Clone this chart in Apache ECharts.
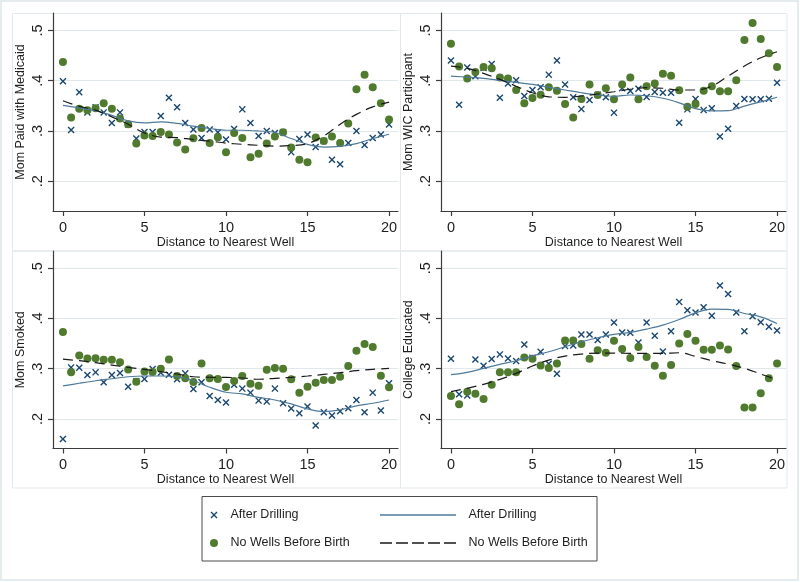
<!DOCTYPE html>
<html>
<head>
<meta charset="utf-8">
<script src="https://cdn.jsdelivr.net/npm/echarts@6/dist/echarts.min.js"></script>
<style>
html,body{margin:0;padding:0;background:#fff;}
#chart{width:800px;height:582px;}
</style>
</head>
<body>
<div id="chart"></div>
<script>
// ---- data ----
const scatterX = [0,0.5,1,1.5,2,2.5,3,3.5,4,4.5,5,5.5,6,6.5,7,7.5,8,8.5,9,9.5,10,10.5,11,11.5,12,12.5,13,13.5,14,14.5,15,15.5,16,16.5,17,17.5,18,18.5,19,19.5,20];
const fitX = [0,1,2,3,4,5,6,7,8,9,10,11,12,13,14,15,16,17,18,19,20];
const xTicks = [0,5,10,15,20];
const yTicks = [0.2,0.3,0.4,0.5];
const panelTitles = ['Mom Paid with Medicaid','Mom WIC Participant','Mom Smoked','College Educated'];
const xAxisTitle = 'Distance to Nearest Well';
const legendLabels = ['After Drilling','No Wells Before Birth','After Drilling','No Wells Before Birth'];

const medicaidAfter = [0.399,0.302,0.377,0.337,0.347,0.337,0.316,0.337,0.313,0.285,0.298,0.298,0.330,0.366,0.347,0.316,0.303,0.286,0.303,0.2975,0.283,0.304,0.343,0.316,0.290,0.300,0.296,0.2975,0.258,0.284,0.293,0.268,0.280,0.243,0.234,0.276,0.300,0.272,0.286,0.293,0.313];
const medicaidNoWells = [0.437,0.327,0.344,0.341,0.345,0.355,0.344,0.325,0.3135,0.275,0.291,0.290,0.298,0.293,0.277,0.263,0.2856,0.306,0.276,0.2875,0.258,0.296,0.286,0.248,0.255,0.275,0.289,0.2975,0.267,0.243,0.238,0.287,0.280,0.289,0.276,0.315,0.383,0.412,0.387,0.355,0.323];
const medicaidAfterFit = [0.351,0.346,0.340,0.331,0.320,0.316,0.318,0.315,0.3095,0.305,0.3015,0.3015,0.300,0.297,0.285,0.2735,0.268,0.2695,0.275,0.285,0.2935];
const medicaidNoWellsFit = [0.360,0.349,0.3415,0.328,0.3135,0.296,0.288,0.287,0.283,0.280,0.276,0.2735,0.2715,0.270,0.271,0.275,0.290,0.3135,0.333,0.348,0.3575];

const wicAfter = [0.440,0.352,0.426,0.409,0.425,0.433,0.366,0.3945,0.401,0.3695,0.3815,0.387,0.412,0.440,0.3925,0.367,0.3435,0.3615,0.372,0.367,0.3365,0.385,0.3795,0.384,0.3675,0.3775,0.376,0.376,0.3165,0.343,0.3635,0.3415,0.345,0.289,0.3045,0.3495,0.3635,0.363,0.363,0.364,0.396];
const wicNoWells = [0.4735,0.428,0.4045,0.417,0.427,0.4245,0.4065,0.4045,0.3815,0.355,0.3655,0.372,0.387,0.380,0.3535,0.327,0.3635,0.3925,0.3715,0.385,0.363,0.3925,0.4065,0.363,0.389,0.3945,0.414,0.410,0.381,0.348,0.3535,0.380,0.389,0.379,0.379,0.401,0.481,0.5146,0.483,0.4545,0.427];
const wicAfterFit = [0.409,0.407,0.4045,0.4005,0.3965,0.3925,0.387,0.3815,0.376,0.3715,0.369,0.3715,0.370,0.365,0.356,0.3445,0.340,0.3405,0.3495,0.358,0.367];
const wicNoWellsFit = [0.429,0.4245,0.4145,0.4025,0.389,0.376,0.368,0.367,0.3695,0.3735,0.378,0.383,0.386,0.385,0.3815,0.3815,0.389,0.409,0.429,0.4455,0.4575];

const smokedAfter = [0.160,0.3026,0.302,0.2874,0.2927,0.2728,0.2874,0.2914,0.2642,0.275,0.2795,0.2993,0.292,0.288,0.279,0.2907,0.2596,0.2728,0.2457,0.2377,0.2325,0.268,0.2603,0.2523,0.2364,0.2344,0.2603,0.2311,0.2205,0.2113,0.2245,0.1868,0.2132,0.2066,0.2152,0.2212,0.2377,0.2132,0.2523,0.2166,0.2709];
const smokedNoWells = [0.373,0.2927,0.3265,0.3205,0.321,0.318,0.318,0.313,0.2985,0.274,0.2945,0.2935,0.300,0.3185,0.2855,0.281,0.2735,0.3106,0.281,0.2795,0.2635,0.2755,0.2855,0.270,0.266,0.298,0.3015,0.300,0.279,0.2523,0.2642,0.272,0.2775,0.2775,0.284,0.3053,0.3358,0.349,0.343,0.286,0.263];
const smokedAfterFit = [0.2656,0.271,0.276,0.280,0.284,0.2854,0.2854,0.284,0.276,0.263,0.253,0.2497,0.243,0.2377,0.2298,0.2199,0.2146,0.2179,0.2258,0.2311,0.2377];
const smokedNoWellsFit = [0.319,0.316,0.312,0.3073,0.3026,0.2987,0.294,0.2894,0.284,0.283,0.2828,0.2815,0.279,0.2808,0.2828,0.2854,0.2887,0.292,0.296,0.2987,0.3007];

const collegeAfter = [0.3199,0.249,0.2464,0.3185,0.306,0.3192,0.3285,0.3205,0.3152,0.3483,0.322,0.3338,0.31,0.2901,0.345,0.3463,0.3682,0.3682,0.357,0.3682,0.392,0.3722,0.3715,0.3523,0.392,0.3656,0.3344,0.3748,0.4331,0.4166,0.4119,0.4225,0.4053,0.4656,0.449,0.4119,0.3748,0.4046,0.3927,0.3834,0.3762];
const collegeNoWells = [0.2457,0.229,0.2543,0.2503,0.2397,0.2682,0.2927,0.2927,0.2927,0.3225,0.3199,0.3066,0.3013,0.3106,0.3563,0.3563,0.349,0.3199,0.337,0.3318,0.3556,0.3391,0.3212,0.343,0.3232,0.306,0.2861,0.3073,0.3503,0.3689,0.3556,0.3377,0.3377,0.3464,0.3384,0.3053,0.2225,0.2225,0.251,0.2808,0.3106];
const collegeAfterFit = [0.288,0.2927,0.3007,0.3086,0.3159,0.3252,0.3338,0.3437,0.3536,0.3616,0.3682,0.3722,0.3788,0.3868,0.398,0.4113,0.4185,0.418,0.41,0.4033,0.39];
const collegeNoWellsFit = [0.2543,0.2609,0.2689,0.2788,0.2907,0.3053,0.3172,0.3252,0.3291,0.331,0.3311,0.3305,0.3305,0.3305,0.3318,0.3245,0.3159,0.3093,0.3007,0.2894,0.2781];

// ---- build ----
const FONT = '"Liberation Sans", Arial, sans-serif';
const TXT = '#1e1e1e';
const AXIS = '#3c3c3c';
const NAVY = '#1a476f';
const GREEN = '#507a2e';
const BLUE_LINE = '#4e7a9b';
const CROSS_PTS = [[0,1.4],[1.4,0],[5,3.6],[8.6,0],[10,1.4],[6.4,5],[10,8.6],[8.6,10],[5,6.4],[1.4,10],[0,8.6],[3.6,5]];
const CROSS = 'path://M' + CROSS_PTS.map(p => p.join(',')).join('L') + 'Z';

const panels = [
  {after: medicaidAfter, none: medicaidNoWells, afterFit: medicaidAfterFit, noneFit: medicaidNoWellsFit},
  {after: wicAfter, none: wicNoWells, afterFit: wicAfterFit, noneFit: wicNoWellsFit},
  {after: smokedAfter, none: smokedNoWells, afterFit: smokedAfterFit, noneFit: smokedNoWellsFit},
  {after: collegeAfter, none: collegeNoWells, afterFit: collegeAfterFit, noneFit: collegeNoWellsFit}
];
const gridPos = [
  {left: 53, top: 13, width: 345, height: 198},
  {left: 441, top: 13, width: 345, height: 198},
  {left: 53, top: 251, width: 345, height: 197.5},
  {left: 441, top: 251, width: 345, height: 197.5}
];
const zip = (xs, ys) => xs.map((x, i) => [x, ys[i]]);

const grids = [], xAxes = [], yAxes = [], series = [];
panels.forEach((p, i) => {
  grids.push(Object.assign({containLabel: false}, gridPos[i]));
  xAxes.push({
    type: 'value', gridIndex: i, min: -0.61, max: 20.55,
    name: xAxisTitle, nameLocation: 'middle', nameGap: 24,
    nameTextStyle: {fontSize: 12.5, color: TXT, fontFamily: FONT},
    axisLine: {show: true, onZero: false, lineStyle: {color: AXIS, width: 1.2}},
    axisTick: {show: true, length: 5, customValues: xTicks, lineStyle: {color: AXIS, width: 1.2}},
    axisLabel: {customValues: xTicks, margin: 9, fontSize: 14.5, color: TXT, fontFamily: FONT},
    splitLine: {show: false}
  });
  yAxes.push({
    type: 'value', gridIndex: i, min: 0.141, max: 0.5345,
    name: panelTitles[i], nameLocation: 'middle', nameGap: 26,
    nameTextStyle: {fontSize: 12.5, color: TXT, fontFamily: FONT},
    axisLine: {show: true, onZero: false, lineStyle: {color: AXIS, width: 1.2}},
    axisTick: {show: true, length: 5, customValues: yTicks, lineStyle: {color: AXIS, width: 1.2}},
    axisLabel: {customValues: yTicks, rotate: 90, margin: 8, fontSize: 14.5, color: TXT, fontFamily: FONT,
      formatter: v => String(Math.round(v * 10) / 10).replace(/^0/, '')},
    splitLine: {show: true, lineStyle: {color: '#e0e8eb', width: 1}}
  });
  series.push({
    type: 'scatter', xAxisIndex: i, yAxisIndex: i, name: 'After Drilling',
    data: zip(scatterX, p.after), symbol: CROSS, symbolSize: 7,
    itemStyle: {color: NAVY, opacity: 1}, z: 2, silent: true
  });
  series.push({
    type: 'scatter', xAxisIndex: i, yAxisIndex: i, name: 'No Wells Before Birth',
    data: zip(scatterX, p.none), symbol: 'circle', symbolSize: 8,
    itemStyle: {color: GREEN, opacity: 1}, z: 3, silent: true
  });
  series.push({
    type: 'line', xAxisIndex: i, yAxisIndex: i, name: 'After Drilling fit',
    data: zip(fitX, p.afterFit), smooth: 0.35, showSymbol: false, symbol: 'none',
    lineStyle: {color: BLUE_LINE, width: 1.2}, z: 4, silent: true
  });
  series.push({
    type: 'line', xAxisIndex: i, yAxisIndex: i, name: 'No Wells fit',
    data: zip(fitX, p.noneFit), smooth: 0.35, showSymbol: false, symbol: 'none',
    lineStyle: {color: '#1a1a1a', width: 1.2, type: [10, 6]}, z: 5, silent: true
  });
});

// frames and legend
const frameStroke = '#e1e9ec';
const legendCross = CROSS_PTS.map(p => [210.5 + p[0] * 0.7, 511.5 + p[1] * 0.7]);
const graphic = [
  {type: 'rect', shape: {x: 1, y: 1, width: 797, height: 579}, style: {fill: 'none', stroke: '#e4ecee', lineWidth: 2}, z: -10},
  {type: 'rect', shape: {x: 12.5, y: 13.5, width: 388, height: 237.5}, style: {fill: 'none', stroke: frameStroke, lineWidth: 1}, z: -10},
  {type: 'rect', shape: {x: 400.5, y: 13.5, width: 386.5, height: 237.5}, style: {fill: 'none', stroke: frameStroke, lineWidth: 1}, z: -10},
  {type: 'rect', shape: {x: 12.5, y: 251, width: 388, height: 237}, style: {fill: 'none', stroke: frameStroke, lineWidth: 1}, z: -10},
  {type: 'rect', shape: {x: 400.5, y: 251, width: 386.5, height: 237}, style: {fill: 'none', stroke: frameStroke, lineWidth: 1}, z: -10},
  // legend box
  {type: 'rect', shape: {x: 202, y: 496.5, width: 395, height: 64.5}, style: {fill: '#fff', stroke: '#4a4a4a', lineWidth: 1}, z: 10},
  {type: 'polygon', shape: {points: legendCross}, style: {fill: NAVY}, z: 11},
  {type: 'circle', shape: {cx: 214, cy: 543, r: 4}, style: {fill: GREEN}, z: 11},
  {type: 'line', shape: {x1: 380, y1: 515, x2: 456, y2: 515}, style: {stroke: BLUE_LINE, lineWidth: 1.3}, z: 11},
  {type: 'line', shape: {x1: 380, y1: 543, x2: 456, y2: 543}, style: {stroke: '#1a1a1a', lineWidth: 1.3, lineDash: [12, 4]}, z: 11},
  {type: 'text', x: 230.5, y: 515, style: {text: legendLabels[0], fill: TXT, font: '12.5px ' + FONT, verticalAlign: 'middle', align: 'left'}, z: 11},
  {type: 'text', x: 230.5, y: 543, style: {text: legendLabels[1], fill: TXT, font: '12.5px ' + FONT, verticalAlign: 'middle', align: 'left'}, z: 11},
  {type: 'text', x: 468.5, y: 515, style: {text: legendLabels[2], fill: TXT, font: '12.5px ' + FONT, verticalAlign: 'middle', align: 'left'}, z: 11},
  {type: 'text', x: 468.5, y: 543, style: {text: legendLabels[3], fill: TXT, font: '12.5px ' + FONT, verticalAlign: 'middle', align: 'left'}, z: 11}
];

const chart = echarts.init(document.getElementById('chart'), null, {renderer: 'canvas'});
chart.setOption({
  animation: false,
  backgroundColor: '#ffffff',
  textStyle: {fontFamily: FONT},
  grid: grids,
  xAxis: xAxes,
  yAxis: yAxes,
  series: series,
  graphic: graphic
});
</script>
</body>
</html>
